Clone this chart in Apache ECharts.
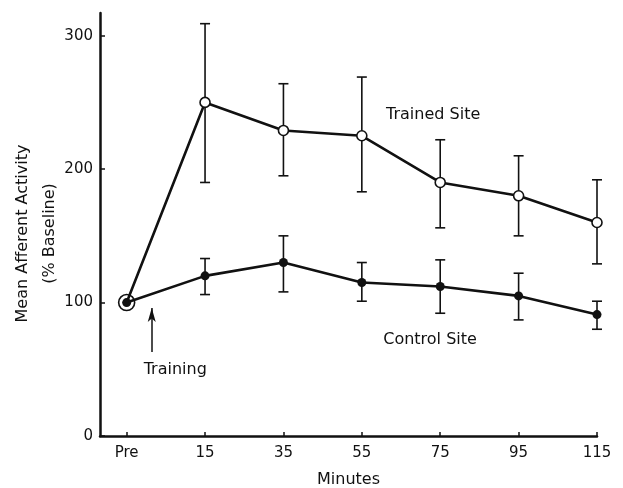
<!DOCTYPE html>
<html>
<head>
<meta charset="utf-8">
<script src="https://cdn.jsdelivr.net/npm/echarts@6/dist/echarts.min.js"></script>
<style>
  html, body { margin: 0; padding: 0; background: #fff; }
  #chart { width: 623px; height: 488px; }
</style>
</head>
<body>
<div id="chart"></div>
<script>
// Time points (minutes after training); index 0 is the pre-training baseline
const categories = ['Pre', '15', '35', '55', '75', '95', '115'];
const yTicks = [0, 100, 200, 300];

// Trained site: mean afferent activity (% baseline) with error-bar limits
const trainedMean = [100, 250, 229, 225, 190, 180, 160];
const trainedLow  = [null, 190, 195, 183, 156, 150, 129];
const trainedHigh = [null, 309, 264, 269, 222, 210, 192];

// Control site
const controlMean = [100, 120, 130, 115, 112, 105, 91];
const controlLow  = [null, 106, 108, 101, 92, 87, 80];
const controlHigh = [null, 133, 150, 130, 132, 122, 101];

const FONT = '"DejaVu Sans", "Liberation Sans", sans-serif';
const INK = '#111';

function toPoints(values) {
  return values.map((v, i) => [i, v]);
}
function toBars(low, high) {
  const out = [];
  low.forEach((lo, i) => {
    if (lo != null && high[i] != null) out.push([i, lo, high[i]]);
  });
  return out;
}

function renderErrorBar(params, api) {
  const x = api.value(0);
  const top = api.coord([x, api.value(2)]);
  const bot = api.coord([x, api.value(1)]);
  const half = 5;
  const style = { stroke: INK, lineWidth: 1.6 };
  return {
    type: 'group',
    children: [
      { type: 'line', shape: { x1: top[0], y1: top[1], x2: bot[0], y2: bot[1] }, style },
      { type: 'line', shape: { x1: top[0] - half, y1: top[1], x2: top[0] + half, y2: top[1] }, style },
      { type: 'line', shape: { x1: bot[0] - half, y1: bot[1], x2: bot[0] + half, y2: bot[1] }, style }
    ]
  };
}

const chart = echarts.init(document.getElementById('chart'), null, { renderer: 'canvas' });

// Trained-site points: the baseline point is drawn as an open ring around the shared dot
const trainedData = toPoints(trainedMean).map((p, i) => i === 0
  ? { value: p, symbolSize: 16, itemStyle: { color: 'rgba(0,0,0,0)', borderColor: INK, borderWidth: 1.6 } }
  : { value: p });

chart.setOption({
  animation: false,
  backgroundColor: '#fff',
  grid: { left: 100, right: 26, top: 13, bottom: 52, containLabel: false, outerBoundsMode: 'none' },
  xAxis: {
    type: 'value',
    min: -0.34,
    max: 6,
    splitLine: { show: false },
    axisLine: { onZero: false, lineStyle: { color: INK, width: 2.5 } },
    axisTick: { inside: true, length: 4, customValues: categories.map((c, i) => i), lineStyle: { color: INK, width: 1.5 } },
    axisLabel: {
      customValues: categories.map((c, i) => i),
      formatter: v => categories[Math.round(v)],
      color: INK, fontFamily: FONT, fontSize: 15, margin: 10
    },
    name: 'Minutes',
    nameLocation: 'middle',
    nameGap: 36,
    nameMoveOverlap: false,
    nameTextStyle: { color: INK, fontFamily: FONT, fontSize: 16 }
  },
  yAxis: {
    type: 'value',
    min: 0,
    max: 317,
    splitLine: { show: false },
    axisLine: { onZero: false, lineStyle: { color: INK, width: 2.5 } },
    axisTick: { inside: true, length: 5, customValues: yTicks, lineStyle: { color: INK, width: 1.5 } },
    axisLabel: { customValues: yTicks, color: INK, fontFamily: FONT, fontSize: 15, margin: 7 },
    name: 'Mean Afferent Activity\n(% Baseline)',
    nameLocation: 'middle',
    nameGap: 37,
    nameMoveOverlap: false,
    nameTextStyle: { color: INK, fontFamily: FONT, fontSize: 16, lineHeight: 27, padding: [0, 18, 0, 0] }
  },
  series: [
    {
      name: 'Trained Site error',
      type: 'custom',
      renderItem: renderErrorBar,
      data: toBars(trainedLow, trainedHigh),
      encode: { x: 0, y: [1, 2] },
      z: 1
    },
    {
      name: 'Control Site error',
      type: 'custom',
      renderItem: renderErrorBar,
      data: toBars(controlLow, controlHigh),
      encode: { x: 0, y: [1, 2] },
      z: 1
    },
    {
      name: 'Control Site',
      type: 'line',
      data: toPoints(controlMean),
      symbol: 'circle',
      symbolSize: 9,
      itemStyle: { color: INK },
      lineStyle: { color: INK, width: 2.6 },
      z: 3,
      markLine: {
        silent: true,
        symbol: ['none', 'arrow'],
        symbolSize: [6, 14],
        label: { show: false },
        lineStyle: { color: INK, width: 1.5, type: 'solid' },
        data: [[{ coord: [0.32, 63] }, { coord: [0.32, 96] }]]
      }
    },
    {
      name: 'Trained Site',
      type: 'line',
      data: trainedData,
      symbol: 'circle',
      symbolSize: 10,
      itemStyle: { color: '#fff', borderColor: INK, borderWidth: 1.6 },
      lineStyle: { color: INK, width: 2.6 },
      z: 4
    }
  ]
});

// Annotations anchored in data coordinates
const notes = [
  { text: 'Trained Site', at: [3.91, 240.7] },
  { text: 'Control Site', at: [3.87, 72] },
  { text: 'Training', at: [0.62, 49.5] }
];
chart.setOption({
  graphic: notes.map(n => {
    const p = chart.convertToPixel({ gridIndex: 0 }, n.at);
    return {
      type: 'text',
      x: p[0], y: p[1],
      style: { text: n.text, fill: INK, font: '16px ' + FONT, align: 'center', verticalAlign: 'middle' },
      z: 10
    };
  })
});
</script>
</body>
</html>
